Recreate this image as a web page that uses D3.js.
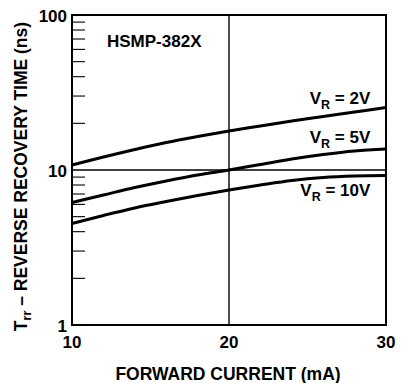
<!DOCTYPE html>
<html>
<head>
<meta charset="utf-8">
<script src="https://cdn.jsdelivr.net/npm/d3@7"></script>
<style>
  html, body { margin: 0; padding: 0; background: #fff; }
  svg text { font-family: "Liberation Sans", Arial, Helvetica, sans-serif; font-weight: bold; fill: #000; }
</style>
</head>
<body>
<svg id="chart" width="404" height="383"></svg>
<script>
// Forward current (mA) sample points
const current = [10, 12, 14, 16, 18, 20, 22, 24, 26, 28, 30];
// Reverse recovery time (ns) per reverse voltage
const trr2V  = [10.77, 12.13, 13.56, 15.05, 16.45, 17.85, 19.22, 20.71, 22.14, 23.67, 25.31];
const trr5V  = [6.17, 6.9, 7.71, 8.49, 9.28, 10.0, 10.85, 11.77, 12.59, 13.27, 13.66];
const trr10V = [4.52, 5.09, 5.69, 6.26, 6.85, 7.43, 8.0, 8.56, 8.95, 9.15, 9.22];
const seriesNames = ["2V", "5V", "10V"];
const xTicks = [10, 20, 30];
const yTicks = [1, 10, 100];
const xGrid = [20];
const yGrid = [10];

const svg = d3.select("#chart");
const mLeft = 72, mRight = 386, mTop = 15, mBottom = 325;

const x = d3.scaleLinear().domain([10, 30]).range([mLeft, mRight]);
const y = d3.scaleLog().domain([1, 100]).range([mBottom, mTop]);

// minor log ticks on the inside of the left axis
const minor = y.ticks().filter(v => yTicks.indexOf(v) < 0);
svg.append("g").selectAll("line").data(minor).join("line")
  .attr("x1", mLeft).attr("x2", mLeft + 13)
  .attr("y1", d => y(d)).attr("y2", d => y(d))
  .attr("stroke", "#000").attr("stroke-width", 1.1);

// grid lines
svg.append("g").selectAll("line").data(xGrid).join("line")
  .attr("x1", d => x(d)).attr("x2", d => x(d))
  .attr("y1", mTop).attr("y2", mBottom)
  .attr("stroke", "#000").attr("stroke-width", 1.4);
svg.append("g").selectAll("line").data(yGrid).join("line")
  .attr("x1", mLeft).attr("x2", mRight)
  .attr("y1", d => y(d)).attr("y2", d => y(d))
  .attr("stroke", "#000").attr("stroke-width", 1.4);

// curves
const line = d3.line()
  .x((d, i) => x(current[i]))
  .y(d => y(d))
  .curve(d3.curveMonotoneX);
const series = [trr2V, trr5V, trr10V];
svg.append("g").selectAll("path").data(series).join("path")
  .attr("d", d => line(d))
  .attr("fill", "none").attr("stroke", "#000").attr("stroke-width", 3);

// frame
svg.append("rect")
  .attr("x", mLeft).attr("y", mTop)
  .attr("width", mRight - mLeft).attr("height", mBottom - mTop)
  .attr("fill", "none").attr("stroke", "#000").attr("stroke-width", 2);

// tick labels
svg.append("g").selectAll("text").data(yTicks).join("text")
  .attr("x", mLeft - 5).attr("y", d => y(d) + 7)
  .attr("text-anchor", "end").attr("font-size", 17)
  .text(d => d);
svg.append("g").selectAll("text").data(xTicks).join("text")
  .attr("x", d => x(d)).attr("y", mBottom + 23)
  .attr("text-anchor", "middle").attr("font-size", 17)
  .text(d => d);

// axis titles
svg.append("text")
  .attr("x", 228).attr("y", 380)
  .attr("text-anchor", "middle").attr("font-size", 17.5)
  .text("FORWARD CURRENT (mA)");

const yt = svg.append("text")
  .attr("transform", "translate(27,176.5) rotate(-90)")
  .attr("text-anchor", "middle").attr("font-size", 17.5);
yt.append("tspan").text("T");
yt.append("tspan").attr("font-size", 12.5).attr("dy", 4).text("rr");
yt.append("tspan").attr("dy", -4).text(" – REVERSE RECOVERY TIME (ns)");

// part number
svg.append("text")
  .attr("x", 107).attr("y", 47)
  .attr("font-size", 17)
  .text("HSMP-382X");

// curve labels
const labelDy = [-3, -6, 20.5];
seriesNames.forEach((name, k) => {
  const s = series[k];
  const t = svg.append("text")
    .attr("x", x(29))
    .attr("y", y(s[s.length - 1]) + labelDy[k])
    .attr("text-anchor", "end").attr("font-size", 17);
  t.append("tspan").text("V");
  t.append("tspan").attr("font-size", 12.5).attr("dy", 5).text("R");
  t.append("tspan").attr("dy", -5).text(" = " + name);
});
</script>
</body>
</html>
